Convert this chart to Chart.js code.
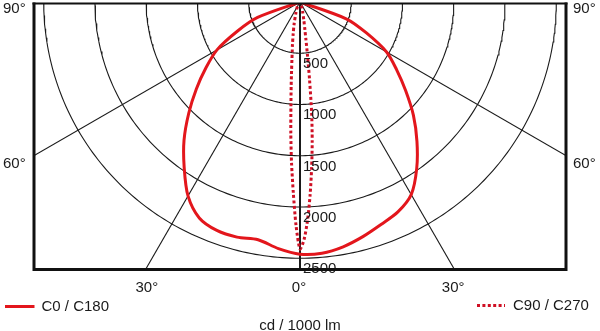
<!DOCTYPE html>
<html>
<head>
<meta charset="utf-8">
<script src="https://cdn.jsdelivr.net/npm/chart.js@4.4.1/dist/chart.umd.min.js"></script>
<style>
html,body{margin:0;padding:0;background:#ffffff;overflow:hidden;}
canvas{display:block;}
</style>
</head>
<body>
<canvas id="chart" width="600" height="331"></canvas>
<script>
// ---- data (gamma angle in degrees, luminous intensity in cd/1000 lm) ----
const gammaSolid  = [0, 5, 10, 15, 20, 25, 30, 35, 40, 45, 50, 55, 60, 65, 70, 75, 80, 85, 90];
const c0Values    = [2460, 2460, 2425, 2370, 2310, 2260, 2170, 1985, 1775, 1565, 1345, 1150, 975, 715, 480, 0, 0, 0, 0];
const c180Values  = [2460, 2415, 2355, 2375, 2372, 2325, 2185, 1970, 1760, 1535, 1320, 1120, 935, 675, 440, 0, 0, 0, 0];

const gammaDotted = [0, 1, 2, 3, 4, 5, 6, 7, 8, 9, 10, 12, 15, 20, 30, 45, 60, 75, 90];
const c90Values   = [2410, 2315, 2125, 1885, 1625, 1365, 1085, 765, 525, 365, 275, 178, 100, 50, 20, 8, 3, 0, 0];
const c270Values  = [2410, 2185, 1865, 1575, 1285, 1015, 825, 675, 565, 485, 425, 322, 222, 120, 50, 15, 5, 0, 0];

const ringValues  = [500, 1000, 1500, 2000, 2500];
const ringLabels  = ['500', '1000', '1500', '2000', '2500'];
const spokeAngles = [-60, -30, 30, 60];
const sideAngleLabels   = ['90\u00B0', '60\u00B0'];
const bottomAngleLabels = ['30\u00B0', '0\u00B0', '30\u00B0'];
const seriesNames = ['C0 / C180', 'C90 / C270'];
const unitLabel   = 'cd / 1000 lm';

// ---- helpers ----
const RAD = Math.PI / 180;
const X_HALF = 2595, Y_MAX = -10, Y_MIN = -2605;
const SOLID_RED = '#e3161c';
const DOT_RED = '#cf1024';
const INK = '#1a1a1a';
const FONT = '15px "Liberation Sans", Arial, Helvetica, sans-serif';

function polar(g, I, side) { return { x: side * I * Math.sin(g * RAD), y: -I * Math.cos(g * RAD) }; }
function branch(gammas, values, side) { return gammas.map((g, i) => polar(g, values[i], side)); }
function curve(gammas, left, right) {
  const l = branch(gammas, left, -1).reverse();
  const r = branch(gammas, right, 1).slice(1);
  return l.concat(r);
}
function arc(r) {
  const pts = [];
  for (let a = -90; a <= 90; a += 1) pts.push({ x: r * Math.sin(a * RAD), y: -r * Math.cos(a * RAD) });
  return pts;
}
function spoke(a) { return [{ x: 0, y: 0 }, { x: 4000 * Math.sin(a * RAD), y: -4000 * Math.cos(a * RAD) }]; }

const base = { showLine: true, pointRadius: 0, pointHoverRadius: 0, fill: false, clip: 0 };

const datasets = [];
datasets.push(Object.assign({}, base, {
  label: seriesNames[0], data: curve(gammaSolid, c180Values, c0Values),
  borderColor: SOLID_RED, borderWidth: 3, tension: 0.3, order: 1
}));
datasets.push(Object.assign({}, base, {
  label: seriesNames[1], data: curve(gammaDotted, c270Values, c90Values),
  borderColor: DOT_RED, borderWidth: 3, borderDash: [3, 2.4], tension: 0.25, order: 0
}));
ringValues.forEach(r => datasets.push(Object.assign({}, base, {
  label: 'ring' + r, data: arc(r), borderColor: INK, borderWidth: 1.1, tension: 0, order: 10
})));
spokeAngles.forEach(a => datasets.push(Object.assign({}, base, {
  label: 'spoke' + a, data: spoke(a), borderColor: INK, borderWidth: 1.1, tension: 0, order: 10
})));
datasets.push(Object.assign({}, base, {
  label: 'axis', data: spoke(0), borderColor: INK, borderWidth: 2, tension: 0, order: 9
}));

const overlay = {
  id: 'overlay',
  afterDatasetsDraw(chart) {
    const { ctx, chartArea: a, scales: { x, y } } = chart;
    ctx.save();
    ctx.fillStyle = INK;
    ctx.font = FONT;
    // ring labels
    ctx.textAlign = 'left';
    ctx.textBaseline = 'alphabetic';
    ringValues.forEach((v, i) => {
      ctx.fillText(ringLabels[i], x.getPixelForValue(0) + 3, y.getPixelForValue(-v) + 15);
    });
    // frame
    ctx.strokeStyle = '#111111';
    ctx.lineCap = 'butt';
    ctx.lineWidth = 2;
    ctx.beginPath(); ctx.moveTo(a.left - 1.5, a.top + 0.5); ctx.lineTo(a.right + 1.5, a.top + 0.5); ctx.stroke();
    ctx.lineWidth = 3;
    ctx.beginPath();
    ctx.moveTo(a.left, a.top - 0.5); ctx.lineTo(a.left, a.bottom + 2);
    ctx.moveTo(a.right, a.top - 0.5); ctx.lineTo(a.right, a.bottom + 2);
    ctx.moveTo(a.left - 1.5, a.bottom + 0.5); ctx.lineTo(a.right + 1.5, a.bottom + 0.5);
    ctx.stroke();
    // side angle labels
    ctx.textBaseline = 'middle';
    const y60 = y.getPixelForValue(-X_HALF / Math.tan(60 * RAD));
    ctx.textAlign = 'left';
    ctx.fillText(sideAngleLabels[0], 3, a.top + 5.5);
    ctx.fillText(sideAngleLabels[0], a.right + 7, a.top + 5.5);
    ctx.fillText(sideAngleLabels[1], 3, y60 + 8.5);
    ctx.fillText(sideAngleLabels[1], a.right + 7, y60 + 8.5);
    // bottom angle labels
    ctx.textAlign = 'center';
    const dx30 = (-Y_MIN) * Math.tan(30 * RAD);
    ctx.fillText(bottomAngleLabels[0], x.getPixelForValue(-dx30) + 1, a.bottom + 19);
    ctx.fillText(bottomAngleLabels[1], x.getPixelForValue(0) - 1, a.bottom + 19);
    ctx.fillText(bottomAngleLabels[2], x.getPixelForValue(dx30) - 1, a.bottom + 19);
    // legend
    ctx.lineWidth = 3;
    ctx.strokeStyle = SOLID_RED;
    ctx.beginPath(); ctx.moveTo(5, 306.5); ctx.lineTo(34.5, 306.5); ctx.stroke();
    ctx.textAlign = 'left';
    ctx.fillText(seriesNames[0], 41.5, 306.5);
    ctx.strokeStyle = DOT_RED;
    ctx.setLineDash([3, 2.4]);
    ctx.beginPath(); ctx.moveTo(477, 305.5); ctx.lineTo(505, 305.5); ctx.stroke();
    ctx.setLineDash([]);
    ctx.fillText(seriesNames[1], 513, 305.5);
    // unit label
    ctx.textAlign = 'center';
    ctx.fillText(unitLabel, 300, 325.5);
    ctx.restore();
  }
};

new Chart(document.getElementById('chart'), {
  type: 'scatter',
  data: { datasets },
  options: {
    responsive: false,
    animation: false,
    devicePixelRatio: 1,
    layout: { padding: { left: 34, right: 34, top: 3, bottom: 62 } },
    plugins: { legend: { display: false }, tooltip: { enabled: false } },
    events: [],
    scales: {
      x: { type: 'linear', min: -X_HALF, max: X_HALF, display: false },
      y: { type: 'linear', min: Y_MIN, max: Y_MAX, display: false }
    }
  },
  plugins: [overlay]
});
</script>
</body>
</html>
